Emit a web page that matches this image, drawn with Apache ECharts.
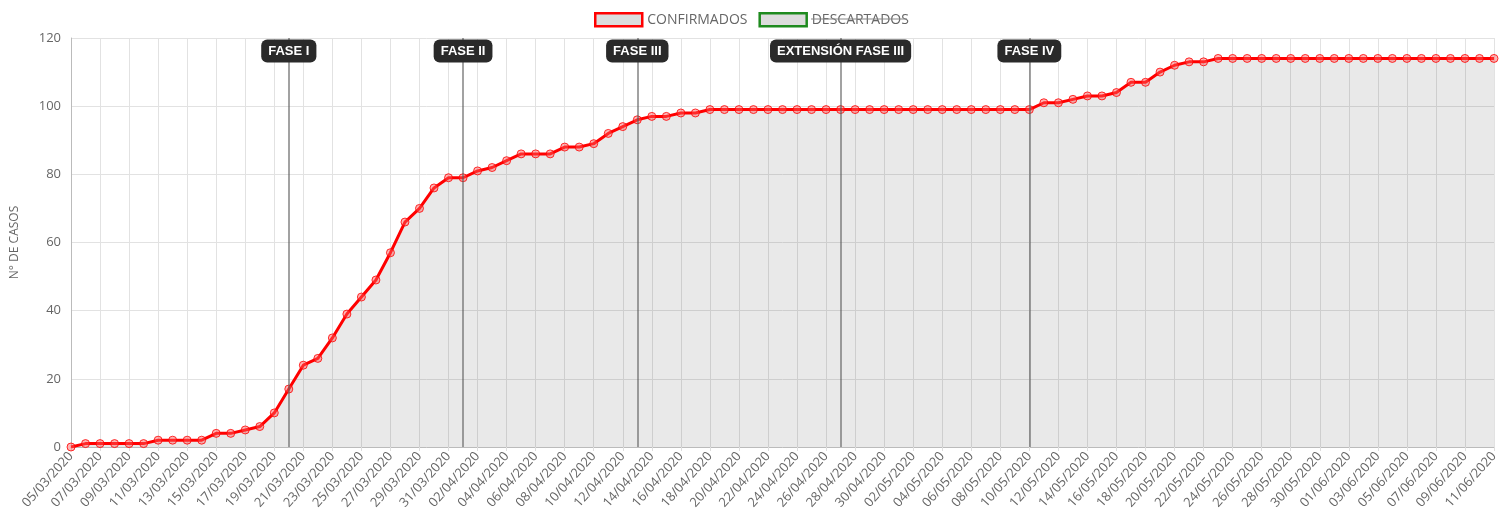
<!DOCTYPE html>
<html><head><meta charset="utf-8">
<script src="https://cdn.jsdelivr.net/npm/echarts@6/dist/echarts.min.js"></script>
<style>html,body{margin:0;padding:0;background:#fff}#c{width:1509px;height:520px}</style>
</head><body><div id="c"></div>
<script>
const categories = [
'05/03/2020','06/03/2020','07/03/2020','08/03/2020','09/03/2020','10/03/2020','11/03/2020','12/03/2020','13/03/2020','14/03/2020',
'15/03/2020','16/03/2020','17/03/2020','18/03/2020','19/03/2020','20/03/2020','21/03/2020','22/03/2020','23/03/2020','24/03/2020',
'25/03/2020','26/03/2020','27/03/2020','28/03/2020','29/03/2020','30/03/2020','31/03/2020','01/04/2020','02/04/2020','03/04/2020',
'04/04/2020','05/04/2020','06/04/2020','07/04/2020','08/04/2020','09/04/2020','10/04/2020','11/04/2020','12/04/2020','13/04/2020',
'14/04/2020','15/04/2020','16/04/2020','17/04/2020','18/04/2020','19/04/2020','20/04/2020','21/04/2020','22/04/2020','23/04/2020',
'24/04/2020','25/04/2020','26/04/2020','27/04/2020','28/04/2020','29/04/2020','30/04/2020','01/05/2020','02/05/2020','03/05/2020',
'04/05/2020','05/05/2020','06/05/2020','07/05/2020','08/05/2020','09/05/2020','10/05/2020','11/05/2020','12/05/2020','13/05/2020',
'14/05/2020','15/05/2020','16/05/2020','17/05/2020','18/05/2020','19/05/2020','20/05/2020','21/05/2020','22/05/2020','23/05/2020',
'24/05/2020','25/05/2020','26/05/2020','27/05/2020','28/05/2020','29/05/2020','30/05/2020','31/05/2020','01/06/2020','02/06/2020',
'03/06/2020','04/06/2020','05/06/2020','06/06/2020','07/06/2020','08/06/2020','09/06/2020','10/06/2020','11/06/2020'
];
const confirmados = [
0,1,1,1,1,1,2,2,2,2,
4,4,5,6,10,17,24,26,32,39,
44,49,57,66,70,76,79,79,81,82,
84,86,86,86,88,88,89,92,94,96,
97,97,98,98,99,99,99,99,99,99,
99,99,99,99,99,99,99,99,99,99,
99,99,99,99,99,99,99,101,101,102,
103,103,104,107,107,110,112,113,113,114,
114,114,114,114,114,114,114,114,114,114,
114,114,114,114,114,114,114,114,114
];
const descartados = [];
const phaseDates = ['20/03/2020','01/04/2020','13/04/2020','27/04/2020','10/05/2020'];
const phaseNames = ['FASE I','FASE II','FASE III','EXTENSIÓN FASE III','FASE IV'];
const phaseLabelY = 116.2;
const yTicks = {min:0, max:120, interval:20};

const chart = echarts.init(document.getElementById('c'));
const grey = '#666';
chart.setOption({
  animation:false,
  textStyle:{fontFamily:'Open Sans'},
  legend:{
    top:7, left:589, itemWidth:47, itemHeight:13, itemGap:11, icon:'rect',
    textStyle:{color:grey, fontSize:14, fontFamily:'Open Sans'},
    data:[
      {name:'CONFIRMADOS', itemStyle:{color:'#dcdcdc', borderColor:'#ff0000', borderWidth:2.5}},
      {name:'DESCARTADOS', itemStyle:{color:'#dcdcdc', borderColor:'#1e8a1e', borderWidth:2.5}}
    ]
  },
  grid:{left:71, right:15, top:38, bottom:73, containLabel:false},
  xAxis:{
    type:'category', data:categories, boundaryGap:false,
    axisLine:{lineStyle:{color:'#bbb'}},
    axisTick:{show:true, interval:1, length:4, lineStyle:{color:'#ddd'}},
    axisLabel:{interval:1, rotate:48, color:grey, fontSize:13, margin:7, fontFamily:'Open Sans'},
    splitLine:{show:true, interval:1, lineStyle:{color:'#e2e2e2'}}
  },
  yAxis:{
    type:'value', min:yTicks.min, max:yTicks.max, interval:yTicks.interval,
    name:'N° DE CASOS', nameLocation:'middle', nameGap:50,
    nameTextStyle:{color:grey, fontSize:12, fontFamily:'Open Sans'},
    axisLine:{show:true, lineStyle:{color:'#bbb'}},
    axisTick:{show:false},
    axisLabel:{color:grey, fontSize:13, margin:10, fontFamily:'Open Sans'},
    splitLine:{lineStyle:{color:'#e2e2e2'}}
  },
  series:[
    {
      name:'CONFIRMADOS', type:'line', data:confirmados,
      symbol:'circle', symbolSize:8, showAllSymbol:true,
      lineStyle:{color:'#ff0000', width:3},
      itemStyle:{color:'rgba(255,90,90,0.45)', borderColor:'rgba(255,0,0,0.8)', borderWidth:1},
      areaStyle:{color:'rgba(0,0,0,0.12)'},
      markLine:{
        silent:true, symbol:['none','none'],
        lineStyle:{color:'rgba(90,90,90,0.75)', width:1.5, type:'solid'},
        label:{show:false},
        data:phaseDates.map(d=>({xAxis:d}))
      },
      markPoint:{
        silent:true, symbol:'rect', symbolSize:0,
        label:{show:true, position:'inside', color:'#fff', fontWeight:'bold', fontSize:13,
          fontFamily:'Liberation Sans', backgroundColor:'#2a2a2a', padding:[5,7,5,7], borderRadius:6},
        data:phaseDates.map((d,i)=>({coord:[d, phaseLabelY], value:phaseNames[i], label:{formatter:phaseNames[i]}}))
      },
      z:3
    },
    {
      name:'DESCARTADOS', type:'line', data:descartados,
      lineStyle:{color:'#1e8a1e'}, itemStyle:{color:'#1e8a1e'}
    }
  ]
});
chart.setOption({graphic:[{type:'line', id:'strike', shape:{x1:811,y1:19,x2:907,y2:19}, style:{stroke:'#888', lineWidth:1.2}, z:100}]});
</script></body></html>
